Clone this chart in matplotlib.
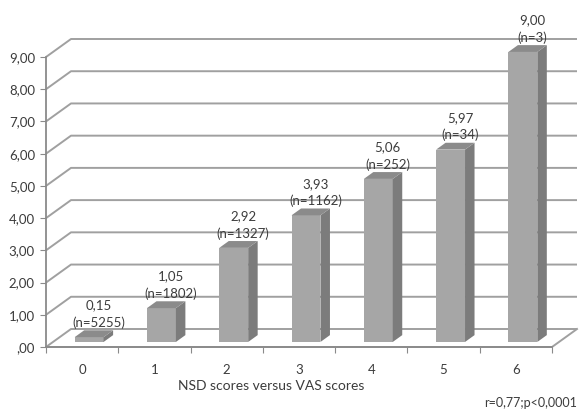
import matplotlib
matplotlib.use("Agg")
import matplotlib.pyplot as plt
from matplotlib.patches import Polygon

plt.rcParams['font.family'] = ['Lato', 'DejaVu Sans']

# Mean VAS score per NSD score, with group sizes
categories = ["0", "1", "2", "3", "4", "5", "6"]
vas_means = [0.15, 1.05, 2.92, 3.93, 5.06, 5.97, 9.00]
group_n = [5255, 1802, 1327, 1162, 252, 34, 3]
y_ticks = [0, 1, 2, 3, 4, 5, 6, 7, 8, 9]
y_tick_labels = [",00", "1,00", "2,00", "3,00", "4,00", "5,00", "6,00", "7,00", "8,00", "9,00"]

W, H = 579, 413
fig = plt.figure(figsize=(W / 100, H / 100), dpi=100)

# Front plane of the pseudo-3D box, in pixels
left_px, right_px, bottom_px, top_px = 46, 552, 347, 57
ax = fig.add_axes([left_px / W, (H - bottom_px) / H,
                   (right_px - left_px) / W, (bottom_px - top_px) / H])
n_cat = len(categories)
ymax = y_ticks[-1]
ax.set_xlim(0, n_cat)
ax.set_ylim(0, ymax)

cat_px = (right_px - left_px) / n_cat
val_px = (bottom_px - top_px) / ymax
# oblique depth vector (full floor depth) in data units
ddx = 25 / cat_px
ddy = 18 / val_px

grid_c = "#a0a0a0"
axis_c = "#8a8a8a"
txt_c = "#3c3c3c"

# gridlines: side-wall diagonal + back-wall horizontal
for v in y_ticks:
    ax.plot([0, ddx, n_cat + ddx], [v, v + ddy, v + ddy], color=grid_c,
            lw=1.4, clip_on=False, zorder=1, solid_capstyle="butt")
# floor front edge and right edge
ax.plot([0, n_cat, n_cat + ddx], [0, 0, ddy], color=grid_c, lw=1.4,
        clip_on=False, zorder=1)

# bars as oblique boxes
f0, f1 = 0.28, 0.66
bw = 0.40
front_c, side_c, top_c = "#a6a6a6", "#7c7c7c", "#8b8b8b"
for i, v in enumerate(vas_means):
    x0 = i + 0.5 - bw / 2 + f0 * ddx
    x1 = x0 + bw
    yb = f0 * ddy
    yt = yb + v
    sx = (f1 - f0) * ddx
    sy = (f1 - f0) * ddy
    front = Polygon([(x0, yb), (x1, yb), (x1, yt), (x0, yt)], closed=True,
                    facecolor=front_c, edgecolor="none", zorder=3, clip_on=False)
    side = Polygon([(x1, yb), (x1 + sx, yb + sy), (x1 + sx, yt + sy), (x1, yt)],
                   closed=True, facecolor=side_c, edgecolor="none", zorder=3,
                   clip_on=False)
    top = Polygon([(x0, yt), (x1, yt), (x1 + sx, yt + sy), (x0 + sx, yt + sy)],
                  closed=True, facecolor=top_c, edgecolor="none", zorder=3,
                  clip_on=False)
    for p in (front, side, top):
        ax.add_patch(p)
    label = f"{v:.2f}".replace(".", ",") + f"\n(n={group_n[i]})"
    ax.annotate(label, xy=((x0 + x1) / 2 + sx, yt), xytext=(0, 6),
                textcoords="offset points", ha="center", va="bottom",
                fontsize=9.5, color=txt_c, linespacing=1.45, zorder=5,
                annotation_clip=False)

# axes frame: only the front left spine and the front floor edge
for s in ("top", "right"):
    ax.spines[s].set_visible(False)
ax.spines["left"].set_color(axis_c)
ax.spines["bottom"].set_color(axis_c)
ax.spines["left"].set_linewidth(1.3)
ax.spines["bottom"].set_linewidth(1.3)
ax.set_zorder(2)
ax.patch.set_visible(False)

ax.set_yticks(y_ticks)
ax.set_yticklabels(y_tick_labels)
ax.set_xticks(range(n_cat + 1))
ax.set_xticklabels([])
ax.set_xticks([i + 0.5 for i in range(n_cat)], minor=True)
ax.set_xticklabels(categories, minor=True)
ax.tick_params(axis="y", length=4, color=axis_c, labelcolor=txt_c,
               labelsize=9.5, pad=4)
ax.tick_params(axis="x", which="major", length=4, color=axis_c)
ax.tick_params(axis="x", which="minor", length=0, labelcolor=txt_c,
               labelsize=9.5, pad=12)

fig.text(271 / W, 1 - 386 / H, "NSD scores versus VAS scores", ha="center",
         va="center", fontsize=10, color=txt_c)
fig.text(577 / W, 1 - 403 / H, "r=0,77;p<0,0001", ha="right", va="center",
         fontsize=9, color=txt_c)

fig.savefig("out.png", dpi=100, facecolor="white")
